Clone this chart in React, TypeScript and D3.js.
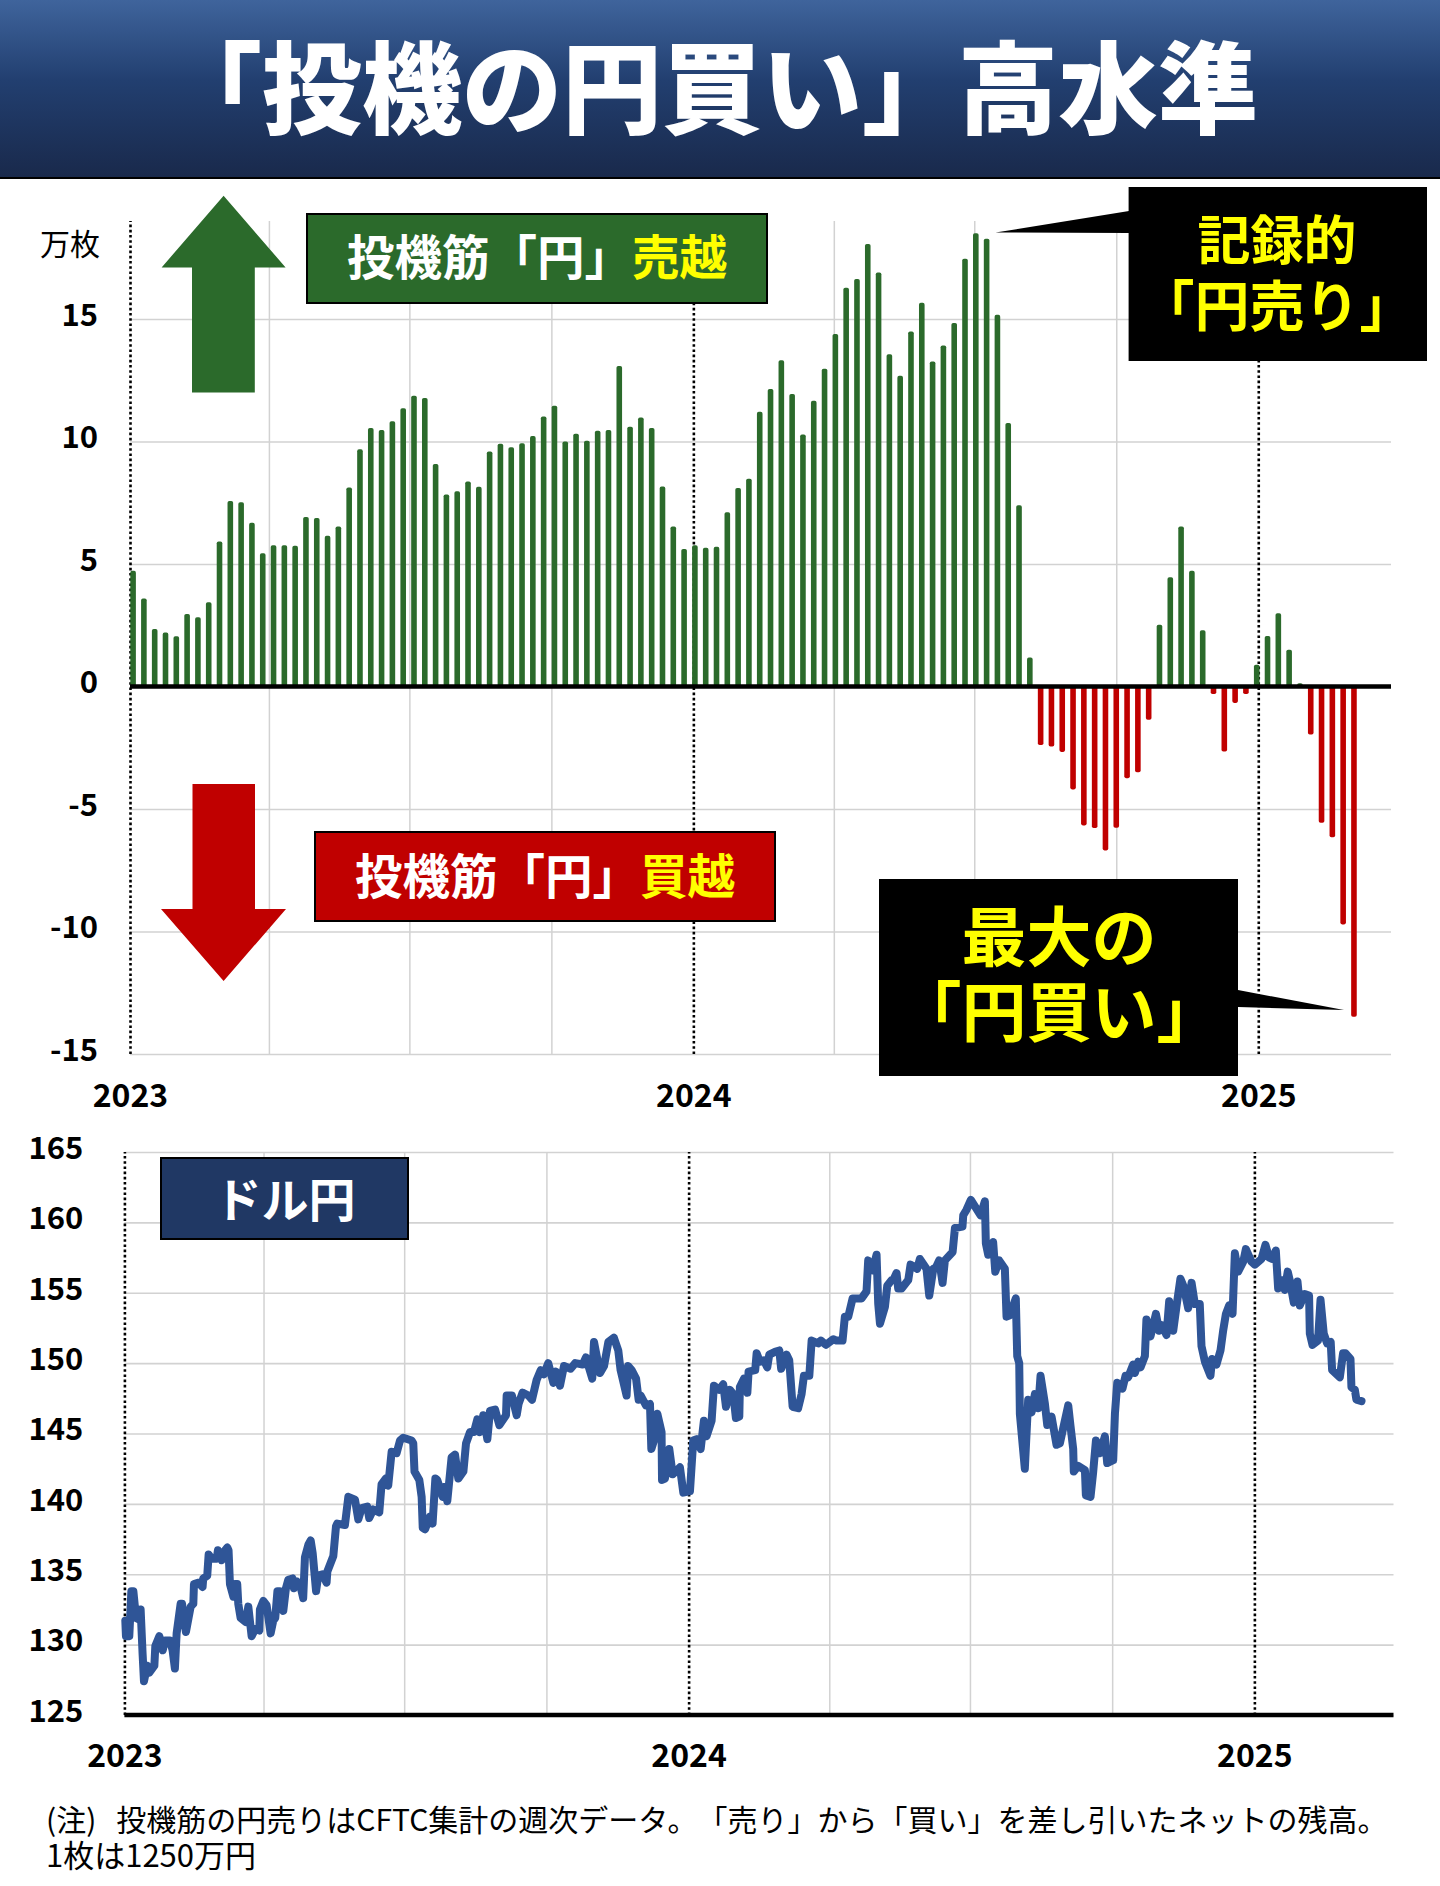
import { useEffect, useRef } from 'react'
import * as d3 from 'd3'

const FONT = '"Noto Sans CJK JP", "Noto Sans", sans-serif'

// speculators' net yen position, 10k contracts, weekly from first Tuesday of 2023
const netPosition = [
  4.72, 3.59, 2.35, 2.2, 2.05, 2.96, 2.83, 3.44, 5.92, 7.57, 7.52, 6.68, 5.44, 5.77, 5.77, 5.74,
  6.92, 6.88, 6.15, 6.53, 8.12, 9.68, 10.55, 10.47, 10.83, 11.36, 11.87, 11.78, 9.08, 7.84, 7.97, 8.37,
  8.15, 9.59, 9.91, 9.77, 9.93, 10.22, 11.02, 11.46, 10.0, 10.32, 10.03, 10.44, 10.47, 13.08, 10.6, 10.98,
  10.55, 8.16, 6.53, 5.61, 5.77, 5.66, 5.7, 7.11, 8.1, 8.48, 11.21, 12.14, 13.32, 11.94, 10.29, 11.66,
  12.97, 14.39, 16.28, 16.63, 18.06, 16.9, 13.56, 12.68, 14.49, 15.66, 13.27, 13.92, 14.84, 17.46, 18.5, 18.28,
  15.17, 10.76, 7.4, 1.18, -2.39, -2.45, -2.67, -4.2, -5.67, -5.78, -6.69, -5.77, -3.74, -3.5, -1.36, 2.52,
  4.46, 6.53, 4.72, 2.3, -0.31, -2.65, -0.67, -0.31, 0.89, 2.06, 2.99, 1.5, 0.13, -1.96, -5.56, -6.15,
  -9.71, -13.48,
]

// [days since 2023-01-01, USD/JPY]
const usdJpy: [number, number][] = [
  [0.6, 131.7], [1, 130.6], [3.2, 130.6], [4.5, 133.8], [5.8, 133.8], [7.5, 131.9], [9.2, 131.8], [10.5, 132.5],
  [11.8, 129.3], [12.7, 127.4], [14.8, 128.5], [16.1, 128.0], [19.4, 128.5], [20, 129.9], [22.6, 130.6], [24.8, 129.6],
  [26.3, 130.3], [29.5, 130.3], [31.2, 129.6], [32.7, 128.3], [33.8, 130.8], [36.4, 132.9], [37.3, 132.9], [39.8, 130.9],
  [42.9, 132.7], [44.6, 132.9], [45, 134.3], [48, 134.4], [50.6, 134.1], [51, 134.7], [53.6, 134.9], [54.5, 136.4],
  [56.4, 136.1], [59.7, 136.1], [60.5, 136.7], [62.9, 136.0], [64.4, 136.6], [66.6, 136.9], [67.4, 136.7], [68.3, 134.3],
  [70.5, 133.4], [71.5, 134.3], [73, 134.3], [73.7, 132.9], [75.2, 131.9], [78.6, 131.6], [80.2, 132.7], [82.3, 130.6],
  [84.5, 131.1], [87.3, 131.0], [87.7, 132.5], [89.9, 133.1], [92, 132.8], [94.6, 130.8], [96.3, 131.7], [97.6, 131.9],
  [99, 133.8], [100.6, 133.8], [102.8, 132.4], [104.5, 134.0], [106, 134.6], [108.8, 134.7], [109.7, 134.0], [111.4, 134.5],
  [113.6, 134.3], [115.7, 133.3], [116.8, 136.2], [119, 137.1], [120.5, 137.4], [121.8, 136.5], [124, 133.8], [125.4, 134.9],
  [128.2, 135.0], [130.8, 134.4], [131.3, 135.2], [135.2, 136.3], [136.9, 138.4], [137.7, 138.6], [142.7, 138.5], [144.9, 140.5],
  [149.2, 140.3], [151.3, 138.9], [153.5, 139.7], [157.1, 139.8], [158.4, 139.0], [161, 139.6], [164.9, 139.4], [166.4, 141.4],
  [169.2, 141.8], [170.7, 141.3], [172.9, 143.7], [176.1, 143.6], [178.3, 144.5], [180.4, 144.7], [185.8, 144.5], [186.9, 144.3],
  [187.7, 142.3], [190.8, 141.7], [192.3, 140.5], [193, 138.3], [194.5, 138.2], [197.7, 139.1], [199.4, 138.6], [201.2, 141.8],
  [202.4, 141.7], [205.9, 140.5], [206.8, 141.2], [208.9, 140.2], [211.7, 143.3], [213.9, 143.5], [216, 141.8], [219.3, 142.3],
  [221, 144.3], [223.6, 145.1], [226.2, 145.1], [228.3, 146.0], [230, 145.1], [232.2, 146.3], [234.8, 144.6], [236.5, 146.6],
  [239.8, 146.7], [242.6, 145.6], [246.9, 146.3], [247.3, 147.7], [250.7, 147.7], [253.8, 146.3], [255, 147.1], [257.6, 147.9],
  [261.3, 147.7], [263.7, 147.4], [266.7, 148.8], [269.3, 149.5], [271.4, 149.2], [274.2, 150.0], [277.5, 148.6], [279.2, 149.4],
  [281.8, 148.4], [284.4, 149.8], [288.7, 149.6], [291.7, 150.0], [296.5, 149.9], [298.6, 150.4], [302.7, 148.9], [303.8, 151.5],
  [307.7, 149.3], [310.3, 149.8], [313.1, 151.5], [316.7, 151.8], [319.5, 150.9], [321, 149.5], [324.9, 147.7], [325.8, 149.8],
  [328.2, 149.5], [331, 148.9], [332.7, 147.4], [334, 147.7], [337.4, 147.0], [340, 147.1], [340.9, 143.9], [342.6, 144.5],
  [344.8, 146.4], [347.5, 145.1], [347.8, 141.7], [349.7, 141.8], [352.5, 143.9], [354.7, 142.1], [359.4, 142.6], [361.6, 140.8],
  [365.9, 140.9], [368, 144.5], [370.2, 144.6], [372.8, 143.9], [374.9, 145.9], [376.6, 144.8], [379.9, 145.9], [381.4, 148.4],
  [384.8, 148.1], [387.4, 148.5], [389.2, 146.9], [391.7, 148.1], [393.9, 147.8], [395.6, 146.1], [397.8, 146.2], [398.2, 148.3],
  [400.8, 148.9], [403, 147.9], [403.8, 149.4], [408.1, 149.5], [409, 150.7], [411.1, 150.1], [413.7, 150.2], [415.9, 149.7],
  [417.2, 150.6], [420.9, 150.8], [423.7, 150.9], [424.9, 149.6], [428.4, 150.6], [430.1, 150.2], [432.3, 146.9], [435.9, 146.8],
  [438.1, 147.8], [439.6, 149.1], [443.1, 149.1], [444.6, 151.6], [448.9, 151.4], [450.6, 151.6], [453.8, 151.3], [458.6, 151.7],
  [460.7, 151.6], [464.6, 151.6], [466.1, 153.3], [468.3, 153.3], [471.1, 154.6], [476.9, 154.6], [480.1, 155.1], [481.2, 157.3],
  [484, 156.6], [486.6, 157.7], [487.7, 154.2], [488.8, 152.8], [492, 154], [493.5, 155.5], [496.3, 155.9], [497.4, 155.9],
  [499.5, 156.4], [500.6, 155.3], [502.8, 155.3], [507.1, 155.9], [508.6, 157], [512.9, 156.7], [514.6, 157.4], [518.9, 156.7],
  [520.7, 154.8], [523.3, 156.7], [525, 156.8], [527.1, 157.3], [529.3, 155.7], [530.8, 157.3], [535.8, 157.9], [537.3, 159.6],
  [542.2, 159.7], [542.7, 160.5], [544.8, 160.9], [547.6, 161.6], [553.9, 160.5], [556.7, 161.5], [557.3, 158.5], [558.8, 157.7],
  [562, 158.6], [563.4, 156.5], [565.9, 157.3], [569.6, 156.7], [570.7, 153.3], [572.8, 153.4], [576.7, 154.6], [577.6, 150.5],
  [578.9, 150], [579.3, 146.4], [582.5, 142.5], [584.7, 147.4], [586.9, 146.5], [589, 147.8], [591.2, 146.8], [592.7, 149.1],
  [595.5, 147.1], [597, 145.6], [599.8, 146.2], [603, 144.2], [605.2, 144.3], [610.6, 147], [612.1, 145.5], [613.8, 143.9],
  [614.2, 142.3], [617, 142.7], [621.4, 142.4], [622, 140.6], [625, 140.5], [626.7, 142.2], [628.5, 144.5], [631.1, 143.6],
  [634.3, 144.8], [635.8, 142.9], [639.7, 143.1], [640.8, 146.4], [642.3, 148.6], [645.7, 148.2], [647.7, 149.1], [649.4, 149],
  [652.6, 149.9], [653.7, 149.3], [655.9, 150.1], [657.4, 149.7], [660.2, 150.5], [661.2, 153.1], [663.8, 151.9], [667.3, 153.5],
  [669.4, 152.3], [671.2, 152.7], [674.2, 152], [675.9, 154.4], [678.5, 152.3], [680.6, 154], [683.2, 156], [685.4, 155.4],
  [688.2, 153.9], [690.4, 155.7], [692.5, 154.2], [695.7, 154.2], [696.8, 151.2], [699, 150.1], [702.6, 149.1], [703.7, 150.3],
  [706.5, 149.9], [709.1, 150.9], [710.8, 152.3], [712.6, 153.5], [714.7, 154.1], [716.9, 153.5], [718.4, 157.8], [720.5, 156.5],
  [723.8, 157.2], [725.5, 158.1], [729.2, 157.2], [731.3, 157], [735.6, 157.4], [738.2, 158.4], [740.5, 157.5], [742.7, 157.4],
  [744.9, 158], [746.4, 155.3], [748.5, 155.9], [750.7, 155.2], [752.6, 156.5], [753.9, 155.9], [756.5, 154.3], [758.9, 155.8],
  [760.4, 154.1], [763.6, 154.9], [766.4, 154.8], [766.9, 152.1], [768.6, 151.3], [772.2, 151.6], [773.8, 154.5], [775.9, 152.1],
  [778.1, 151.4], [780.4, 151.5], [781.3, 149.5], [786.3, 149], [788.4, 150.7], [789.9, 150.7], [793.2, 150.3], [793.8, 148.3],
  [796, 148.1], [797, 147.4], [800.3, 147.3],
]

const positionTicks = [-15, -10, -5, 0, 5, 10, 15]
const rateTicks = [125, 130, 135, 140, 145, 150, 155, 160, 165]

const start = new Date(Date.UTC(2023, 0, 1))
const firstWeek = new Date(Date.UTC(2023, 0, 3))
const quarters = d3.utcMonth.range(start, new Date(Date.UTC(2025, 2, 1)), 3)

const GREEN = '#2b6a2b'
const RED = '#c00000'
const NAVY = '#203864'
const LINE = '#2f5597'
const GRID = '#d2d2d2'
const YELLOW = '#ffff00'

type Sel = d3.Selection<SVGGElement, unknown, null, undefined>

// shared styling for gridlines + tick labels of both panels
function styleAxes(yAxis: Sel, xAxis: Sel, labelX: number, labelY: number) {
  yAxis.attr('font-family', null)
  xAxis.attr('font-family', null)
  yAxis.select('.domain').remove()
  yAxis.selectAll('line').attr('stroke', GRID).attr('stroke-width', 1.6)
  yAxis.selectAll('text')
    .attr('x', labelX)
    .attr('dy', '0.35em')
    .attr('y', -4.5)
    .attr('font-size', 31)
    .attr('font-weight', 700)
    .attr('fill', '#000')
  xAxis.select('.domain').remove()
  xAxis.selectAll<SVGLineElement, Date>('line')
    .attr('stroke', (d) => (d.getUTCMonth() === 0 ? '#000' : GRID))
    .attr('stroke-width', (d) => (d.getUTCMonth() === 0 ? 2.6 : 1.5))
    .attr('stroke-dasharray', (d) => (d.getUTCMonth() === 0 ? '2.6 2.6' : null))
  // only the January ticks carry a year label
  xAxis.selectAll<SVGTextElement, Date>('text')
    .filter((d) => d.getUTCMonth() !== 0)
    .remove()
  xAxis.selectAll('text')
    .attr('y', labelY)
    .attr('dy', '0.35em')
    .attr('font-size', 32)
    .attr('font-weight', 700)
    .attr('fill', '#000')
}

function yearLabel(d: Date | d3.NumberValue) {
  return String((d as Date).getUTCFullYear())
}

export default function App() {
  const svgRef = useRef<SVGSVGElement>(null)

  useEffect(() => {
    if (!svgRef.current) return
    const svg = d3.select(svgRef.current)
    svg.selectAll('*').remove()
    svg.style('font-family', FONT).style('text-spacing-trim', 'space-all')

    // header band
    const grad = svg.append('defs').append('linearGradient')
      .attr('id', 'band').attr('x1', 0).attr('x2', 0).attr('y1', 0).attr('y2', 1)
    grad.append('stop').attr('offset', '0%').attr('stop-color', '#3f649c')
    grad.append('stop').attr('offset', '45%').attr('stop-color', '#223f70')
    grad.append('stop').attr('offset', '100%').attr('stop-color', '#19294b')
    svg.append('rect').attr('width', 1440).attr('height', 178).attr('fill', 'url(#band)')
    svg.append('rect').attr('y', 177).attr('width', 1440).attr('height', 2).attr('fill', '#000')
    svg.append('text')
      .attr('x', 162).attr('y', 126)
      .attr('font-size', 100).attr('font-weight', 900).attr('fill', '#fff')
      .text('「投機の円買い」')
    svg.append('text')
      .attr('x', 958).attr('y', 126)
      .attr('font-size', 100).attr('font-weight', 900).attr('fill', '#fff')
      .text('高水準')

    // --- position panel ---
    const x1 = d3.scaleUtc()
      .domain([start, new Date(Date.UTC(2025, 2, 28))])
      .range([130, 1391])
    const y1 = d3.scaleLinear().domain([-15, 19]).range([1054, 221])

    const g1y = svg.append('g').attr('transform', 'translate(130,0)')
      .call(d3.axisLeft(y1).tickValues(positionTicks).tickSize(-(1391 - 130)).tickFormat((d) => String(d)))
    const g1x = svg.append('g').attr('transform', 'translate(0,1054)')
      .call(d3.axisBottom(x1).tickValues(quarters).tickSize(-(1054 - 221)).tickFormat(yearLabel))
    styleAxes(g1y, g1x, -32, 42)

    svg.append('text')
      .attr('x', 100).attr('y', 244).attr('dy', '0.35em').attr('text-anchor', 'end')
      .attr('font-size', 30).text('万枚')

    svg.append('g').selectAll('rect')
      .data(netPosition)
      .join('rect')
      .attr('x', (_, i) => x1(d3.utcDay.offset(firstWeek, i * 7)) - 2.8)
      .attr('width', 5.6)
      .attr('y', (d) => Math.min(y1(d), y1(0)))
      .attr('height', (d) => Math.abs(y1(d) - y1(0)))
      .attr('rx', 1.8)
      .attr('fill', (d) => (d >= 0 ? GREEN : RED))

    svg.append('line')
      .attr('x1', 130).attr('x2', 1391).attr('y1', y1(0)).attr('y2', y1(0))
      .attr('stroke', '#000').attr('stroke-width', 4.5)

    // --- USD/JPY panel ---
    const x2 = d3.scaleUtc()
      .domain([start, new Date(Date.UTC(2025, 3, 1))])
      .range([124.4, 1393.5])
    const y2 = d3.scaleLinear().domain([125, 165]).range([1715, 1152])

    const g2y = svg.append('g').attr('transform', 'translate(124.4,0)')
      .call(d3.axisLeft(y2).tickValues(rateTicks).tickSize(-(1393.5 - 124.4)).tickFormat((d) => String(d)))
    const g2x = svg.append('g').attr('transform', 'translate(0,1715)')
      .call(d3.axisBottom(x2).tickValues(quarters).tickSize(-(1715 - 1152)).tickFormat(yearLabel))
    styleAxes(g2y, g2x, -41, 41)

    svg.append('path')
      .datum(usdJpy)
      .attr('fill', 'none')
      .attr('stroke', LINE)
      .attr('stroke-width', 8)
      .attr('stroke-linejoin', 'round')
      .attr('stroke-linecap', 'round')
      .attr('d', d3.line<[number, number]>()
        .x((d) => x2(d3.utcHour.offset(start, d[0] * 24)))
        .y((d) => y2(d[1])))

    svg.append('line')
      .attr('x1', 124.4).attr('x2', 1393.5).attr('y1', y2(125)).attr('y2', y2(125))
      .attr('stroke', '#000').attr('stroke-width', 4.5)

    // --- arrows ---
    svg.append('path')
      .attr('d', 'M223.6,195.7 L285.6,267.5 L254.8,267.5 L254.8,392.5 L192,392.5 L192,267.5 L161.6,267.5 Z')
      .attr('fill', GREEN)
    svg.append('path')
      .attr('d', 'M223.6,981 L286,909 L255,909 L255,784 L192.5,784 L192.5,909 L161,909 Z')
      .attr('fill', RED)

    // --- label boxes ---
    const labelBox = (x: number, y: number, w: number, h: number, fill: string, parts: [string, string][], size: number, tx: number, ty: number) => {
      svg.append('rect')
        .attr('x', x).attr('y', y).attr('width', w).attr('height', h)
        .attr('fill', fill).attr('stroke', '#000').attr('stroke-width', 2)
      const t = svg.append('text')
        .attr('x', tx).attr('y', ty).attr('dy', '0.36em').attr('text-anchor', 'middle')
        .attr('font-size', size).attr('font-weight', 700)
      parts.forEach(([s, c]) => t.append('tspan').attr('fill', c).text(s))
    }
    labelBox(307, 214, 460, 89, GREEN, [['投機筋「円」', '#fff'], ['売越', YELLOW]], 47.5, 537, 258)
    labelBox(315, 832, 460, 89, RED, [['投機筋「円」', '#fff'], ['買越', YELLOW]], 47.5, 545, 877)
    labelBox(161, 1158, 247, 81, NAVY, [['ドル円', '#fff']], 47, 285, 1200)

    // --- callouts ---
    const callout = (x: number, y: number, w: number, h: number, tail: string, lines: string[], sizes: number[], cx: number, cys: number[]) => {
      svg.append('path').attr('d', tail).attr('fill', '#000')
      svg.append('rect').attr('x', x).attr('y', y).attr('width', w).attr('height', h).attr('fill', '#000')
      lines.forEach((s, i) => {
        svg.append('text')
          .attr('x', cx).attr('y', cys[i]).attr('dy', '0.36em').attr('text-anchor', 'middle')
          .attr('font-size', sizes[i]).attr('font-weight', 700).attr('fill', YELLOW)
          .text(s)
      })
    }
    callout(1128.6, 187, 298.4, 174, 'M995.5,232.5 L1129,211 L1129,233 Z', ['記録的', '「円売り」'], [53, 55], 1277, [241, 306])
    callout(879, 879, 359, 197, 'M1344,1010 L1238,990 L1238,1007 Z', ['最大の', '「円買い」'], [65, 65], 1059, [938, 1013])

    // --- note ---
    const note = svg.append('text')
      .attr('x', 46).attr('y', 1820).attr('dy', '0.36em')
      .attr('font-size', 30).attr('fill', '#000')
    note.append('tspan').text('(注)')
    note.append('tspan').attr('dx', 20)
      .text('投機筋の円売りはCFTC集計の週次データ。「売り」から「買い」を差し引いたネットの残高。')
    svg.append('text')
      .attr('x', 46).attr('y', 1856).attr('dy', '0.36em')
      .attr('font-size', 31).attr('fill', '#000')
      .text('1枚は1250万円')
  }, [])

  return (
    <svg
      ref={svgRef}
      width={1440}
      height={1886}
      style={{ position: 'absolute', left: 0, top: 0, background: '#fff' }}
    />
  )
}
